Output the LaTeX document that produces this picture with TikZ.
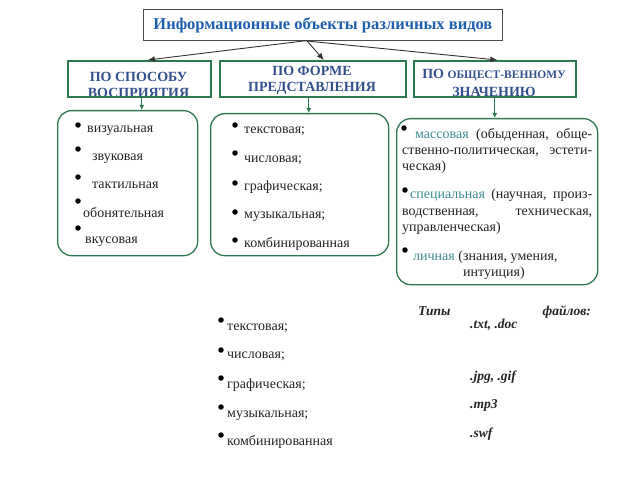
\documentclass[tikz,border=0pt]{standalone}
\usepackage{fontspec}
\setmainfont{Liberation Serif}
\usetikzlibrary{arrows.meta}
\definecolor{grn}{RGB}{45,120,80}
\definecolor{ttl}{RGB}{30,95,175}
\definecolor{hdr}{RGB}{50,80,140}
\definecolor{tealc}{RGB}{60,140,145}
\definecolor{txt}{RGB}{35,35,35}
\tikzset{
  hbox/.style={draw=grn, line width=1.6pt, inner sep=0, anchor=north west},
  rbox/.style={draw=grn, line width=1.3pt, rounded corners=14pt, inner sep=0, anchor=north west},
  htext/.style={anchor=base, inner sep=0, text=hdr, font=\bfseries\fontsize{14}{16}\selectfont},
  item/.style={anchor=base west, inner sep=0, text=txt, font=\fontsize{14}{16}\selectfont},
  fitem/.style={anchor=base west, inner sep=0, text=txt, font=\bfseries\itshape\fontsize{13.5}{16}\selectfont},
  bul/.style={circle, fill=black, inner sep=0, minimum size=5.5pt},
  blk/.style={-{Latex[length=7pt,width=6pt]}, line width=0.9pt, black!80},
  garr/.style={-{Latex[length=5pt,width=5pt]}, grn, line width=1.2pt}
}
\begin{document}
\begin{tikzpicture}[x=1pt,y=-1pt]
\useasboundingbox (0,0) rectangle (623,476);

% title
\node[draw=black!70, line width=0.8pt, inner sep=0, anchor=north west,
      minimum width=359pt, minimum height=31pt,
      text=ttl, font=\bfseries\fontsize{16.5}{18}\selectfont] (title) at (143,9)
      {Информационные объекты различных видов};

% header texts (clipped by boxes)
\begin{scope}
\clip (67,60) rectangle (210,96);
\node[htext] (h1t) at (138.5,82) {ПО СПОСОБУ};
\node[htext] (h1u) at (138.5,97.5) {ВОСПРИЯТИЯ};
\end{scope}
\begin{scope}
\clip (219,60) rectangle (405,96);
\node[htext] (h2t) at (312,76) {ПО ФОРМЕ};
\node[htext] (h2u) at (312,92) {ПРЕДСТАВЛЕНИЯ};
\end{scope}
\begin{scope}
\clip (413,60) rectangle (575,96);
\node[htext] (h3t) at (494,79) {ПО {\fontsize{11.5}{15}\selectfont ОБЩЕСТ-ВЕННОМУ}};
\node[htext] (h3u) at (494,97) {ЗНАЧЕНИЮ};
\end{scope}

% header boxes
\node[hbox, minimum width=143pt, minimum height=36pt] (box1) at (67,60) {};
\node[hbox, minimum width=186pt, minimum height=36pt] (box2) at (219,60) {};
\node[hbox, minimum width=162pt, minimum height=36pt] (box3) at (413,60) {};

% rounded boxes
\node[rbox, minimum width=140pt, minimum height=145pt] (boxA) at (57,110) {};
\node[rbox, minimum width=178pt, minimum height=142pt] (boxB) at (210,113) {};
\node[rbox, minimum width=201pt, minimum height=166pt] (boxC) at (396,118) {};

% arrows from title
\draw[blk] ([xshift=-18pt]title.south) -- ([xshift=8.5pt]box1.north);
\draw[blk] ([xshift=-16pt]title.south) -- ([xshift=11pt]box2.north);
\draw[blk] ([xshift=-18pt]title.south) -- ([xshift=2.5pt]box3.north);

% green arrows
\draw[garr] ([xshift=2.5pt]box1.south) -- ([xshift=2.5pt]box1.south |- boxA.north);
\draw[garr] ([xshift=-4pt]box2.south) -- ([xshift=-4pt]box2.south |- boxB.north);
\draw[garr] (box3.south) -- (box3.south |- boxC.north);

% box A items
\node[bul] (a1b) at (78,125) {}; \node[item] (a1) at (87,132) {визуальная};
\node[bul] (a2b) at (78,149) {}; \node[item] (a2) at (92,160) {звуковая};
\node[bul] (a3b) at (78,177) {}; \node[item] (a3) at (92,188) {тактильная};
\node[bul] (a4b) at (78,201) {}; \node[item] (a4) at (83,217) {обонятельная};
\node[bul] (a5b) at (78,228) {}; \node[item] (a5) at (85,243) {вкусовая};

% box B items
\node[bul] (b1b) at (235,125) {}; \node[item] (b1) at (244,133) {текстовая;};
\node[bul] (b2b) at (235,153) {}; \node[item] (b2) at (244,162) {числовая;};
\node[bul] (b3b) at (235,183) {}; \node[item] (b3) at (244,190) {графическая;};
\node[bul] (b4b) at (235,212) {}; \node[item] (b4) at (244,218) {музыкальная;};
\node[bul] (b5b) at (235,240) {}; \node[item] (b5) at (244,247) {комбинированная};

% box C items
\node[bul] (c1b) at (404,128) {};
\node[item] (c1) at (415,138) {\hbox to 177pt{\textcolor{tealc}{массовая}\hfil(обыденная,\hfil обще-}};
\node[item] (c2) at (402,154) {\hbox to 190pt{ственно-политическая,\hfil эстети-}};
\node[item] (c3) at (402,170) {ческая)};
\node[bul] (c4b) at (405,190) {};
\node[item] (c4) at (410,198) {\hbox to 182pt{\textcolor{tealc}{специальная}\hfil(научная,\hfil произ-}};
\node[item] (c5) at (402,215) {\hbox to 190pt{водственная,\hfil техническая,}};
\node[item] (c6) at (402,231) {управленческая)};
\node[bul] (c7b) at (405,250) {};
\node[item] (c7) at (413,260) {\textcolor{tealc}{личная} (знания, умения,};
\node[item] (c8) at (463,276) {интуиция)};

% bottom list
\node[fitem] (ft1) at (418,315) {Типы};
\node[fitem, anchor=base east] (ft2) at (591,315) {файлов:};
\node[bul] (d1b) at (221,320) {}; \node[item] (d1) at (227,330) {текстовая;};
\node[bul] (d2b) at (221,350) {}; \node[item] (d2) at (227,358) {числовая;};
\node[bul] (d3b) at (221,378) {}; \node[item] (d3) at (227,388) {графическая;};
\node[bul] (d4b) at (221,407) {}; \node[item] (d4) at (227,417) {музыкальная;};
\node[bul] (d5b) at (221,435) {}; \node[item] (d5) at (227,445) {комбинированная};
\node[fitem] (e1) at (470,328) {.txt, .doc};
\node[fitem] (e3) at (470,380) {.jpg, .gif};
\node[fitem] (e4) at (470,408) {.mp3};
\node[fitem] (e5) at (470,437) {.swf};
\end{tikzpicture}
\end{document}
